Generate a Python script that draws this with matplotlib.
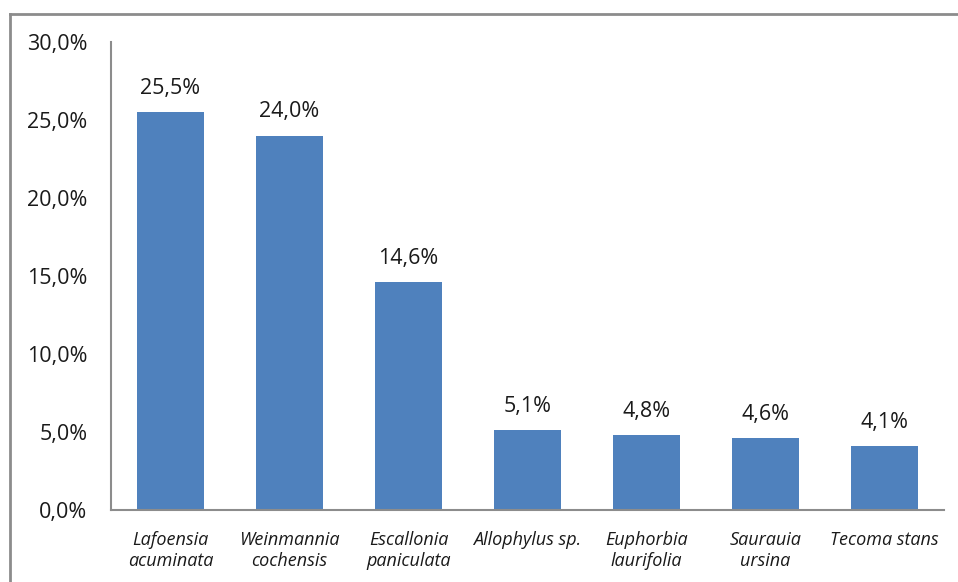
import matplotlib
matplotlib.use("Agg")
import matplotlib.pyplot as plt
from matplotlib.lines import Line2D

species = ["Lafoensia\nacuminata", "Weinmannia\ncochensis", "Escallonia\npaniculata",
           "Allophylus sp.", "Euphorbia\nlaurifolia", "Saurauia\nursina", "Tecoma stans"]
values = [25.5, 24.0, 14.6, 5.1, 4.8, 4.6, 4.1]
yticks = [0, 5, 10, 15, 20, 25, 30]

W, H = 958, 582
fig = plt.figure(figsize=(W / 100, H / 100), dpi=100)
ax = fig.add_axes([111 / W, 1 - 510 / H, (944 - 111) / W, (510 - 42) / H])

bar_color = "#4F81BD"
x = range(len(values))
ax.bar(x, values, width=0.57, color=bar_color, zorder=2)

for xi, v in zip(x, values):
    ax.text(xi, v + 0.85, f"{v:.1f}%".replace(".", ","), ha="center", va="bottom",
            fontsize=15.5, color="#1a1a1a", family="Open Sans")

ax.set_xlim(-0.5, len(values) - 0.5)
ax.set_ylim(0, 30)
ax.set_yticks(yticks)
ax.set_yticklabels([f"{t:.1f}%".replace(".", ",") for t in yticks],
                   fontsize=15.5, color="#1a1a1a", family="Open Sans")
ax.set_xticks(list(x))
ax.set_xticklabels(species, fontsize=13, style="italic", color="#1a1a1a",
                   family="Open Sans", linespacing=1.25)
ax.tick_params(axis="y", length=0, pad=17)
ax.tick_params(axis="x", length=0, pad=15)

for s in ["top", "right"]:
    ax.spines[s].set_visible(False)
for s in ["left", "bottom"]:
    ax.spines[s].set_color("#8c8c8c")
    ax.spines[s].set_linewidth(1.5)

# outer chart border (left and top only visible in the crop)
fig.add_artist(Line2D([9.5 / W, 9.5 / W], [0, 1 - 14 / H], color="#8c8c8c", lw=2,
                      transform=fig.transFigure))
fig.add_artist(Line2D([9.5 / W, 1], [1 - 14 / H, 1 - 14 / H], color="#8c8c8c", lw=2,
                      transform=fig.transFigure))

fig.savefig("out.png", dpi=100)
